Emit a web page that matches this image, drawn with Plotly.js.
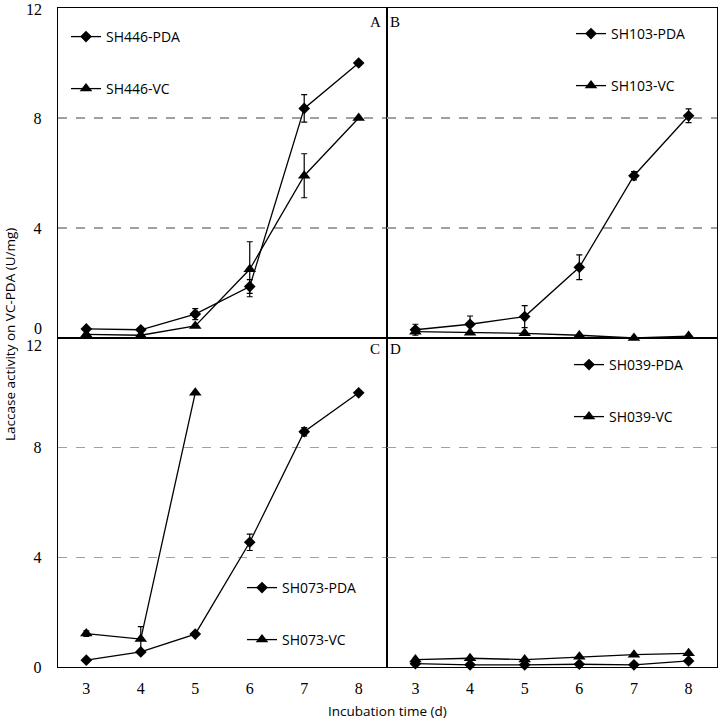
<!DOCTYPE html>
<html>
<head>
<meta charset="utf-8">
<script src="https://cdn.plot.ly/plotly-3.0.1.min.js"></script>
<style>html,body{margin:0;padding:0;background:#fff;}#chart{width:718px;height:721px;}</style>
</head>
<body>
<div id="chart"></div>
<script>
// ---- data ----
const days = [3, 4, 5, 6, 7, 8];
const daysShort = [3, 4, 5];
const xTickLabels = ['3', '4', '5', '6', '7', '8'];

const sh446PDA = [0.33, 0.30, 0.87, 1.87, 8.35, 10.0];
const sh446PDAerr = [0, 0, 0.2, 0.25, 0.5, 0];
const sh446VC = [0.13, 0.10, 0.44, 2.5, 5.9, 8.0];
const sh446VCerr = [0, 0, 0, 1.0, 0.8, 0];

const sh103PDA = [0.30, 0.50, 0.78, 2.57, 5.9, 8.08];
const sh103PDAerr = [0.2, 0.3, 0.4, 0.45, 0.15, 0.25];
const sh103VC = [0.23, 0.19, 0.17, 0.10, 0.0, 0.07];
const sh103VCerr = [0, 0, 0, 0, 0, 0];

const sh073PDA = [0.25, 0.55, 1.2, 4.55, 8.58, 10.0];
const sh073PDAerr = [0, 0, 0, 0.3, 0.15, 0];
const sh073VC = [1.22, 1.02, 10.0];
const sh073VCerr = [0.1, 0.45, 0];

const sh039PDA = [0.12, 0.08, 0.08, 0.10, 0.08, 0.22];
const sh039PDAerr = [0, 0, 0, 0, 0, 0];
const sh039VC = [0.27, 0.32, 0.27, 0.37, 0.45, 0.50];
const sh039VCerr = [0, 0, 0, 0, 0, 0];

// ---- styling helpers ----
const W = 718, H = 721;
const px = v => v / W;
const py = v => 1 - v / H;

function tr(name, x, y, err, sym, xa, ya, leg) {
  return {
    type: 'scatter', mode: 'lines+markers', name: name, x: x, y: y,
    xaxis: xa, yaxis: ya, legend: leg, cliponaxis: false,
    line: {color: '#000', width: 1.3},
    marker: {symbol: sym, size: sym === 'diamond' ? 9 : 11, color: '#000'},
    error_y: {type: 'data', array: err, visible: true, color: '#000', thickness: 1.2, width: 3}
  };
}

const traces = [
  tr('SH446-PDA', days, sh446PDA, sh446PDAerr, 'diamond', 'x', 'y', 'legend'),
  tr('SH446-VC', days, sh446VC, sh446VCerr, 'triangle-up', 'x', 'y', 'legend2'),
  tr('SH103-PDA', days, sh103PDA, sh103PDAerr, 'diamond', 'x2', 'y2', 'legend3'),
  tr('SH103-VC', days, sh103VC, sh103VCerr, 'triangle-up', 'x2', 'y2', 'legend4'),
  tr('SH073-PDA', days, sh073PDA, sh073PDAerr, 'diamond', 'x3', 'y3', 'legend5'),
  tr('SH073-VC', daysShort, sh073VC, sh073VCerr, 'triangle-up', 'x3', 'y3', 'legend6'),
  tr('SH039-PDA', days, sh039PDA, sh039PDAerr, 'diamond', 'x4', 'y4', 'legend7'),
  tr('SH039-VC', days, sh039VC, sh039VCerr, 'triangle-up', 'x4', 'y4', 'legend8')
];

const serif = 'Liberation Serif, Times New Roman, serif';
const sans = 'Open Sans, Liberation Sans, sans-serif';

function xax(dom, labels, anchor) {
  return {
    domain: dom, range: [2.48, 8.52], anchor: anchor,
    tickvals: days, ticktext: xTickLabels, showticklabels: labels,
    ticks: '', ticklabelstandoff: 6,
    showgrid: false, zeroline: false,
    showline: true, mirror: true, linecolor: '#000', linewidth: 1.3,
    tickfont: {family: serif, size: 16, color: '#000'}
  };
}
function yax(dom, vals, labels, anchor) {
  return {
    domain: dom, range: [0, 12], anchor: anchor,
    tickvals: vals, ticktext: vals.map(String), showticklabels: labels,
    ticks: '', ticklabelstandoff: 12,
    showgrid: true, gridcolor: '#a0a0a0', griddash: 'dash', gridwidth: 1.3,
    zeroline: false,
    showline: true, mirror: true, linecolor: '#000', linewidth: 1.3,
    tickfont: {family: serif, size: 16, color: '#000'}
  };
}

const xL = [px(58), px(387)], xR = [px(387), px(717)];
const yT = [py(338), py(8)], yB = [py(667), py(338)];

function leg(xp, yp) {
  return {
    x: px(xp), y: py(yp), xanchor: 'left', yanchor: 'middle',
    bgcolor: 'rgba(0,0,0,0)', borderwidth: 0, itemwidth: 30,
    font: {family: sans, size: 14, color: '#000'}
  };
}

function ann(text, xp, yp, font, extra) {
  return Object.assign({
    text: text, x: px(xp), y: py(yp), xref: 'paper', yref: 'paper',
    xanchor: 'center', yanchor: 'middle', showarrow: false, font: font
  }, extra || {});
}
const fSerif15 = {family: serif, size: 15, color: '#000'};
const fSerif16 = {family: serif, size: 16, color: '#000'};
const fSans = {family: sans, size: 13.5, color: '#000'};

const layout = {
  width: W, height: H, margin: {l: 0, r: 0, t: 0, b: 0},
  paper_bgcolor: '#fff', plot_bgcolor: 'rgba(0,0,0,0)',
  showlegend: true,
  xaxis: xax(xL, false, 'y'), yaxis: yax(yT, [4, 8], true, 'x'),
  xaxis2: xax(xR, false, 'y2'), yaxis2: yax(yT, [4, 8], false, 'x2'),
  xaxis3: xax(xL, true, 'y3'), yaxis3: yax(yB, [0, 4, 8], true, 'x3'),
  xaxis4: xax(xR, true, 'y4'), yaxis4: yax(yB, [0, 4, 8], false, 'x4'),
  legend: leg(66, 37), legend2: leg(66, 89),
  legend3: leg(571, 34), legend4: leg(571, 86),
  legend5: leg(242, 588), legend6: leg(242, 640),
  legend7: leg(569, 365), legend8: leg(569, 417),
  annotations: [
    ann('A', 375, 22, fSerif15),
    ann('B', 395, 22, fSerif15),
    ann('C', 375, 349, fSerif15),
    ann('D', 395, 349, fSerif15),
    ann('12', 44, 10, fSerif16, {xanchor: 'right'}),
    ann('0', 44, 328, fSerif16, {xanchor: 'right'}),
    ann('12', 44, 345, fSerif16, {xanchor: 'right'}),
    ann('Laccase activity on VC-PDA (U/mg)', 10, 335, fSans, {textangle: -90}),
    ann('Incubation time (d)', 387, 711, fSans)
  ]
};

Plotly.newPlot('chart', traces, layout, {displayModeBar: false, staticPlot: true});
</script>
</body>
</html>
